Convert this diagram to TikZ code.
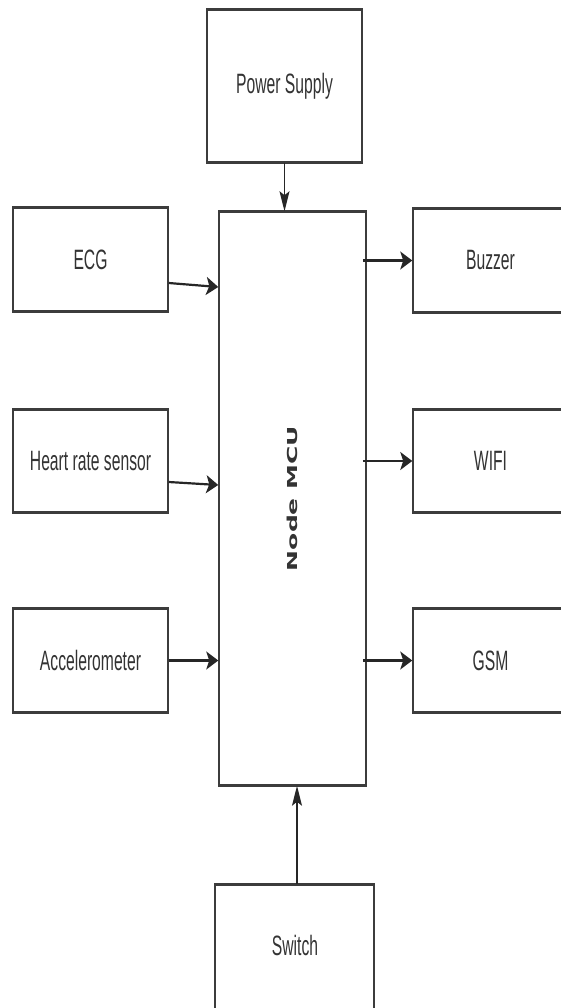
\documentclass[tikz,border=0pt]{standalone}
\usepackage{fontspec}
\setmainfont{Liberation Sans}
\newfontfamily\mcufont{DejaVu Sans}
\usetikzlibrary{arrows.meta,calc}
\definecolor{txt}{HTML}{333333}
\definecolor{edge}{HTML}{3C3C3C}
\newcommand{\sqz}[1]{\scalebox{0.56}[1]{#1}}
\begin{document}
\begin{tikzpicture}[x=1pt,y=-1pt,
  box/.style={draw=edge, line width=1.5pt, inner sep=0pt,
    minimum width=155pt, minimum height=102pt,
    font=\fontsize{28}{30}\selectfont, text=txt,
    append after command={\pgfextra{\draw[edge, line width=2.6pt]
      (\tikzlastnode.north west) -- (\tikzlastnode.north east)
      (\tikzlastnode.south west) -- (\tikzlastnode.south east);}}},
  harr/.style={-{Stealth[length=12pt,width=18pt,inset=3pt]}, line width=2.2pt, black!85},
  varr/.style={-{Stealth[length=20pt,width=10pt,inset=4pt]}, line width=1.6pt, black!85}]
\useasboundingbox (0,0) rectangle (560,1008);
% boxes
\node[box, minimum height=152pt] (power) at (284.5,86) {\sqz{Power Supply}};
\node[box] (ecg) at (90.5,259.5) {\sqz{ECG}};
\node[box] (heart) at (90.5,461) {\sqz{Heart rate sensor}};
\node[box] (acc) at (90.5,660.5) {\sqz{Accelerometer}};
\node[box, minimum width=147pt, minimum height=573pt] (mcu) at (292.5,498.5)
  {\scalebox{0.55}[1]{\rotatebox{90}{\mcufont\bfseries\fontsize{25}{27}\selectfont\color{txt} Node MCU}}};
\node[box] (buzzer) at (490.5,260.5) {\sqz{Buzzer}};
\node[box] (wifi) at (490.5,461) {\sqz{WIFI}};
\node[box] (gsm) at (490.5,660.5) {\sqz{GSM}};
\node[box, minimum width=159pt, minimum height=155pt] (switch) at (294.5,962.5) {};
\node[font=\fontsize{28}{30}\selectfont, text=txt, inner sep=0pt] (switchtxt) at (295,945) {\sqz{Switch}};
% connectors
\draw[varr] (power.south) -- (power.south |- mcu.north);
\draw[harr] ([yshift=-23.5pt]ecg.east) -- (mcu.west |- 0,287);
\draw[harr] ([yshift=-21pt]heart.east) -- (mcu.west |- 0,485);
\draw[harr] (acc.east) -- (acc.east -| mcu.west);
\draw[harr] ([xshift=-4pt]mcu.east |- buzzer.west) -- (buzzer.west);
\draw[harr] ([xshift=-4pt]mcu.east |- wifi.west) -- (wifi.west);
\draw[harr] ([xshift=-4pt]mcu.east |- gsm.west) -- (gsm.west);
\draw[varr] ([xshift=2.5pt]switch.north) -- ([xshift=2.5pt]switch.north |- mcu.south);
\end{tikzpicture}
\end{document}
